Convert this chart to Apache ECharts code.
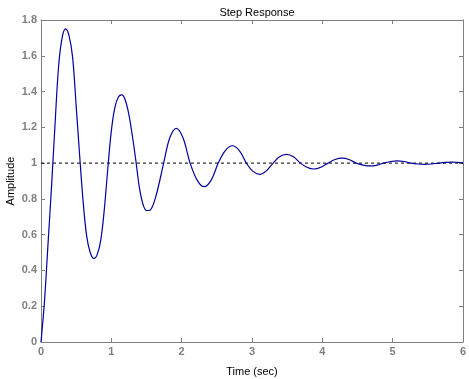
<!DOCTYPE html>
<html>
<head>
<meta charset="utf-8">
<script src="https://cdn.jsdelivr.net/npm/echarts@6/dist/echarts.min.js"></script>
<style>
html,body{margin:0;padding:0;background:#fff;}
#c{width:469px;height:379px;}
</style>
</head>
<body>
<div id="c"></div>
<script>
var titleText = "Step Response";
var xName = "Time (sec)";
var yName = "Amplitude";
var xTicks = [0, 1, 2, 3, 4, 5, 6];
var yTicks = [0, 0.2, 0.4, 0.6, 0.8, 1, 1.2, 1.4, 1.6, 1.8];
var steadyValue = 1;

// Step response: time (s) and amplitude
var times = [
  0, 0.05, 0.10, 0.15, 0.20, 0.25, 0.30, 0.35, 0.40, 0.45, 0.50, 0.55,
  0.60, 0.65, 0.70, 0.75, 0.80, 0.85, 0.90, 0.95, 1.00, 1.05, 1.10, 1.15,
  1.20, 1.25, 1.30, 1.35, 1.40, 1.45, 1.50, 1.55, 1.63, 1.744, 1.83, 1.924,
  2.02, 2.12, 2.22, 2.318, 2.42, 2.52, 2.62, 2.72, 2.82, 2.92, 3.01, 3.11,
  3.20, 3.30, 3.39, 3.49, 3.59, 3.69, 3.78, 3.88, 3.98, 4.08, 4.18, 4.28,
  4.38, 4.48, 4.58, 4.68, 4.78, 4.87, 4.97, 5.065, 5.16, 5.26, 5.36, 5.45,
  5.55, 5.65, 5.75, 5.85, 5.93, 6.0
];
var amplitude = [
  0, 0.23, 0.55, 0.87, 1.22, 1.54, 1.70, 1.75, 1.71, 1.59, 1.32, 1.04,
  0.78, 0.59, 0.50, 0.467, 0.49, 0.57, 0.74, 0.97, 1.18, 1.31, 1.37, 1.381,
  1.35, 1.27, 1.15, 1.01, 0.86, 0.77, 0.735, 0.737, 0.81, 1.0, 1.14, 1.194,
  1.14, 1.0, 0.905, 0.868, 0.905, 1.0, 1.07, 1.097, 1.07, 1.0, 0.955, 0.937,
  0.955, 1.0, 1.035, 1.049, 1.035, 1.0, 0.977, 0.967, 0.977, 1.0, 1.02, 1.028,
  1.02, 1.0, 0.989, 0.984, 0.989, 1.0, 1.009, 1.013, 1.009, 1.0, 0.995, 0.993,
  0.995, 1.0, 1.004, 1.006, 1.004, 1.002
];

var lineData = times.map(function (t, i) { return [t, amplitude[i]]; });
var steadyData = [[xTicks[0], steadyValue], [xTicks[xTicks.length - 1], steadyValue]];

var gray = '#808080';
var fontFam = 'Liberation Sans, Arial, sans-serif';
var labelStyle = { color: gray, fontSize: 11, fontWeight: 'bold', fontFamily: fontFam };
var tickStyle = { show: true, inside: true, length: 4, lineStyle: { color: gray } };
var lineStyleAxis = { show: true, onZero: false, lineStyle: { color: gray, width: 1 } };

var chart = echarts.init(document.getElementById('c'));
chart.setOption({
  animation: false,
  backgroundColor: '#ffffff',
  title: {
    text: titleText,
    left: 252, top: 2, textAlign: 'center',
    textStyle: { fontSize: 11, fontWeight: 'normal', color: '#000', fontFamily: fontFam }
  },
  grid: { left: 41, top: 20, right: 6, bottom: 37, containLabel: false, outerBoundsMode: 'none' },
  xAxis: [{
    type: 'value', min: 0, max: 6, interval: 1,
    name: xName, nameLocation: 'middle', nameGap: 24,
    nameTextStyle: { color: '#000', fontSize: 11, fontFamily: fontFam },
    axisLine: lineStyleAxis,
    axisTick: tickStyle,
    axisLabel: Object.assign({ margin: 4 }, labelStyle),
    splitLine: { show: false }
  }, {
    type: 'value', min: 0, max: 6, interval: 1, position: 'top',
    axisLine: lineStyleAxis,
    axisTick: tickStyle,
    axisLabel: { show: false }, splitLine: { show: false }
  }],
  yAxis: [{
    type: 'value', min: 0, max: 1.8, interval: 0.2,
    name: yName, nameLocation: 'middle', nameGap: 25, nameMoveOverlap: false,
    nameTextStyle: { color: '#000', fontSize: 11, fontFamily: fontFam },
    axisLine: lineStyleAxis,
    axisTick: tickStyle,
    axisLabel: Object.assign({ margin: 4, formatter: function (v) { return String(Math.round(v * 10) / 10); } }, labelStyle),
    splitLine: { show: false }
  }, {
    type: 'value', min: 0, max: 1.8, interval: 0.2, position: 'right',
    axisLine: lineStyleAxis,
    axisTick: tickStyle,
    axisLabel: { show: false }, splitLine: { show: false }
  }],
  series: [{
    type: 'line', data: steadyData, xAxisIndex: 0, yAxisIndex: 0,
    symbol: 'none', lineStyle: { color: '#000', width: 1, type: [3, 3] }, z: 2
  }, {
    type: 'line', data: lineData, xAxisIndex: 0, yAxisIndex: 0,
    symbol: 'none', smooth: 0.35, lineStyle: { color: '#000099', width: 1.2 }, z: 3
  }, {
    type: 'line', data: [], xAxisIndex: 1, yAxisIndex: 1, symbol: 'none'
  }]
});
</script>
</body>
</html>
